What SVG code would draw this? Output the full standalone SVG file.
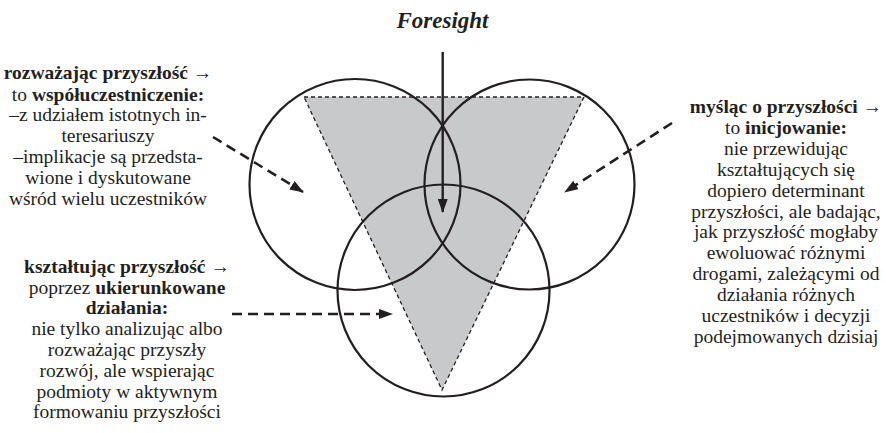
<svg xmlns="http://www.w3.org/2000/svg" width="886" height="433" viewBox="0 0 886 433">
<style>
.t{font-family:"Liberation Serif","Times New Roman",serif;font-size:19.5px;fill:#231f20;text-anchor:middle}
.b{font-weight:bold}
.ti{font-size:23px;font-style:italic}
.c{fill:none;stroke:#231f20;stroke-width:2.2}
.d{fill:none;stroke:#231f20;stroke-width:2.6;stroke-dasharray:10 6}
</style>
<defs>
<marker id="ah" viewBox="0 0 14 10" refX="13" refY="5" markerWidth="14" markerHeight="10" markerUnits="userSpaceOnUse" orient="auto">
<path d="M0,0 L14,5 L0,10 Z" fill="#231f20"/>
</marker>
</defs>
<rect width="886" height="433" fill="#fff"/>
<g id="triangle">
<polygon points="304,97 584,97 442,390" fill="#c8c9cb" stroke="#231f20" stroke-width="1.3" stroke-dasharray="4 3"/>
</g>
<g id="circle-left"><circle class="c" cx="355" cy="184.5" r="105.5"/></g>
<g id="circle-right"><circle class="c" cx="529.5" cy="184.5" r="105"/></g>
<g id="circle-bottom"><circle class="c" cx="443.5" cy="290.5" r="106"/></g>
<g id="title"><text class="t b ti" x="442.5" y="27.5">Foresight</text></g>
<g id="connectors">
<line x1="442.7" y1="52" x2="442.7" y2="212" stroke="#231f20" stroke-width="2.4" marker-end="url(#ah)"/>
<line class="d" x1="213" y1="137" x2="303" y2="192" marker-end="url(#ah)"/>
<line class="d" x1="672" y1="123" x2="565" y2="192" marker-end="url(#ah)"/>
<line class="d" x1="232" y1="314" x2="392" y2="314" marker-end="url(#ah)"/>
</g>
<g id="left-top">
<text class="t b" x="108" y="79.3">rozważając przyszłość →</text>
<text class="t" x="108" y="100.5">to <tspan class="b">współuczestniczenie:</tspan></text>
<text class="t" x="108" y="121.3">–z udziałem istotnych in-</text>
<text class="t" x="108" y="142">teresariuszy</text>
<text class="t" x="108" y="163.3">–implikacje są przedsta-</text>
<text class="t" x="108" y="184">wione i dyskutowane</text>
<text class="t" x="108" y="205">wśród wielu uczestników</text>
</g>
<g id="left-bottom">
<text class="t b" x="127" y="273.3">kształtując przyszłość →</text>
<text class="t" x="127" y="294">poprzez <tspan class="b">ukierunkowane</tspan></text>
<text class="t b" x="127" y="314.3">działania:</text>
<text class="t" x="127" y="335">nie tylko analizując albo</text>
<text class="t" x="127" y="356">rozważając przyszły</text>
<text class="t" x="127" y="376.7">rozwój, ale wspierając</text>
<text class="t" x="127" y="397.7">podmioty w aktywnym</text>
<text class="t" x="127" y="418.3">formowaniu przyszłości</text>
</g>
<g id="right">
<text class="t b" x="786" y="113.3">myśląc o przyszłości →</text>
<text class="t" x="786" y="134.3">to <tspan class="b">inicjowanie:</tspan></text>
<text class="t" x="786" y="155">nie przewidując</text>
<text class="t" x="786" y="175.7">kształtujących się</text>
<text class="t" x="786" y="196.7">dopiero determinant</text>
<text class="t" x="786" y="217.7">przyszłości, ale badając,</text>
<text class="t" x="786" y="238.3">jak przyszłość mogłaby</text>
<text class="t" x="786" y="259.3">ewoluować różnymi</text>
<text class="t" x="786" y="280">drogami, zależącymi od</text>
<text class="t" x="786" y="301">działania różnych</text>
<text class="t" x="786" y="321.7">uczestników i decyzji</text>
<text class="t" x="786" y="342.7">podejmowanych dzisiaj</text>
</g>
</svg>
